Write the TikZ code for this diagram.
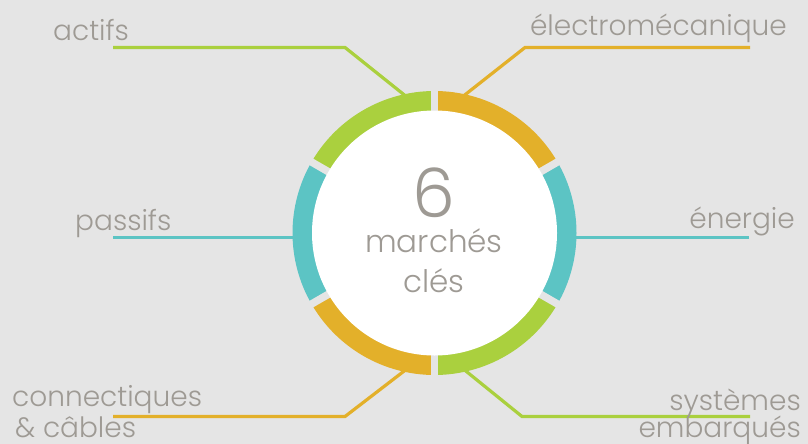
\documentclass[tikz,border=0pt]{standalone}
\usepackage{fontspec}
\setmainfont{Poppins Light}
\definecolor{bg}{RGB}{229,229,229}
\definecolor{cgreen}{RGB}{170,208,62}
\definecolor{corange}{RGB}{227,176,42}
\definecolor{cteal}{RGB}{92,196,196}
\definecolor{ctext}{RGB}{158,154,148}
\begin{document}
\begin{tikzpicture}[x=1pt,y=-1pt,
  lbl/.style={inner sep=0pt, text=ctext, font=\fontsize{28}{28}\selectfont},
  ctr/.style={inner sep=0pt, text=ctext, font=\fontsize{31}{31}\selectfont},
  conn/.style={line width=3.2pt},
  seg/.style={line width=20pt},
  gapline/.style={bg, line width=7.5pt}]
\fill[bg] (0,0) rectangle (808,444);
\useasboundingbox (0,0) rectangle (808,444);
\coordinate (c) at (434.5,233);
% connector points
\coordinate (actA) at (113,47.5);
\coordinate (actB) at (345,47.5);
\coordinate (actC) at (410,99.5);
\coordinate (eleA) at (750,47.5);
\coordinate (eleB) at (525,47.5);
\coordinate (eleC) at (459,99.5);
\coordinate (pasA) at (113,237.5);
\coordinate (pasB) at (300,237.5);
\coordinate (eneA) at (749,237.5);
\coordinate (eneB) at (570,237.5);
\coordinate (conA) at (113,416.5);
\coordinate (conB) at (345,416.5);
\coordinate (conC) at (410,366.5);
\coordinate (sysA) at (750,416.5);
\coordinate (sysB) at (522,416.5);
\coordinate (sysC) at (459,365.5);
\draw[conn,cgreen] (actA) -- (actB) -- (actC);
\draw[conn,corange] (eleA) -- (eleB) -- (eleC);
\draw[conn,cteal] (pasA) -- (pasB);
\draw[conn,cteal] (eneA) -- (eneB);
\draw[conn,corange] (conA) -- (conB) -- (conC);
\draw[conn,cgreen] (sysA) -- (sysB) -- (sysC);
% ring
\draw[seg,corange] (c) ++(-90:132) arc[start angle=-90,end angle=-30,radius=132];
\draw[seg,cteal]   (c) ++(-30:132) arc[start angle=-30,end angle=30,radius=132];
\draw[seg,cgreen]  (c) ++(30:132) arc[start angle=30,end angle=90,radius=132];
\draw[seg,corange] (c) ++(90:132) arc[start angle=90,end angle=150,radius=132];
\draw[seg,cteal]   (c) ++(150:132) arc[start angle=150,end angle=210,radius=132];
\draw[seg,cgreen]  (c) ++(210:132) arc[start angle=210,end angle=270,radius=132];
\foreach \a in {30,90,...,330} \draw[gapline] (c) ++(\a:112) -- ++(\a:38);
\fill[white] (c) circle[radius=122.5];
% centre text
\node[ctr, anchor=base, text depth=0pt, font=\fontsize{68}{68}\selectfont] (six) at (434,217) {6};
\node[ctr, anchor=base] (mar) at (434,252) {marchés};
\node[ctr, anchor=base] (cles) at (434,292) {clés};
% labels
\node[lbl, anchor=base west] (actifs) at (53,41) {actifs};
\node[lbl, anchor=base west] (passifs) at (75,230) {passifs};
\node[lbl, anchor=base west] (conn1) at (12,406.5) {connectiques};
\node[lbl, anchor=base west] (conn2) at (15,437) {\& câbles};
\node[lbl, anchor=base east] (elec) at (787,36) {électromécanique};
\node[lbl, anchor=base east] (ener) at (795,228) {énergie};
\node[lbl, anchor=base east] (sys1) at (801,410) {systèmes};
\node[lbl, anchor=base east] (sys2) at (801,437) {embarqués};
\end{tikzpicture}
\end{document}
